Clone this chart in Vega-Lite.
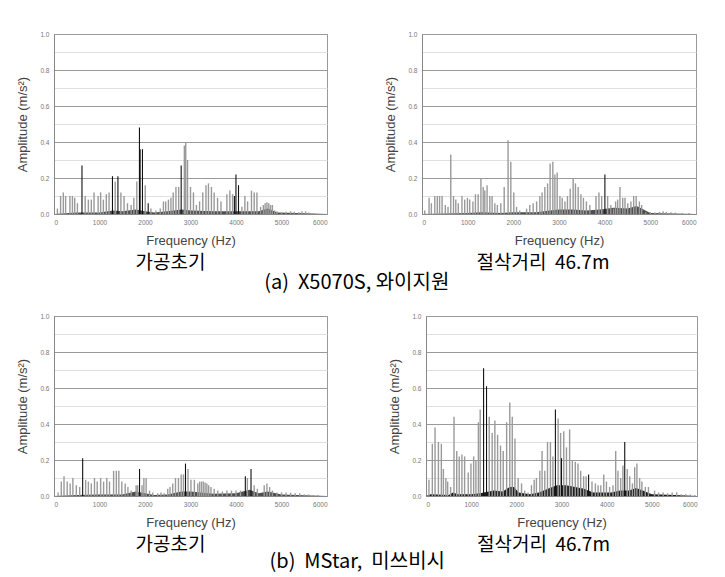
{
"$schema": "https://vega.github.io/schema/vega-lite/v6.json",
"padding": {"left": 16, "top": 30, "right": 5, "bottom": 5},
"background": "white",
"datasets": {
"s": [
{"p":"a1","t":"g","f":75,"a":0.03},{"p":"a1","t":"g","f":145,"a":0.10},{"p":"a1","t":"g","f":205,"a":0.12},{"p":"a1","t":"g","f":255,"a":0.10},{"p":"a1","t":"g","f":350,"a":0.10},{"p":"a1","t":"g","f":405,"a":0.10},{"p":"a1","t":"g","f":455,"a":0.09},{"p":"a1","t":"g","f":515,"a":0.06},{"p":"a1","t":"k","f":615,"a":0.27},{"p":"a1","t":"g","f":685,"a":0.10},{"p":"a1","t":"g","f":755,"a":0.08},{"p":"a1","t":"g","f":820,"a":0.08},{"p":"a1","t":"g","f":880,"a":0.12},{"p":"a1","t":"g","f":970,"a":0.10},{"p":"a1","t":"g","f":1025,"a":0.12},{"p":"a1","t":"g","f":1085,"a":0.08},{"p":"a1","t":"g","f":1150,"a":0.11},{"p":"a1","t":"g","f":1210,"a":0.12},{"p":"a1","t":"k","f":1285,"a":0.21},{"p":"a1","t":"g","f":1345,"a":0.18},{"p":"a1","t":"k","f":1405,"a":0.21},{"p":"a1","t":"g","f":1470,"a":0.12},{"p":"a1","t":"g","f":1540,"a":0.10},{"p":"a1","t":"g","f":1615,"a":0.06},{"p":"a1","t":"g","f":1695,"a":0.05},{"p":"a1","t":"g","f":1755,"a":0.09},{"p":"a1","t":"g","f":1820,"a":0.18},{"p":"a1","t":"k","f":1878,"a":0.48},{"p":"a1","t":"k","f":1893,"a":0.36},{"p":"a1","t":"k","f":1944,"a":0.36},{"p":"a1","t":"g","f":2005,"a":0.16},{"p":"a1","t":"k","f":2070,"a":0.06},{"p":"a1","t":"g","f":2130,"a":0.03},{"p":"a1","t":"g","f":2240,"a":0.02},{"p":"a1","t":"g","f":2335,"a":0.03},{"p":"a1","t":"g","f":2405,"a":0.07},{"p":"a1","t":"g","f":2455,"a":0.07},{"p":"a1","t":"g","f":2515,"a":0.08},{"p":"a1","t":"g","f":2570,"a":0.09},{"p":"a1","t":"g","f":2620,"a":0.12},{"p":"a1","t":"g","f":2680,"a":0.15},{"p":"a1","t":"g","f":2740,"a":0.15},{"p":"a1","t":"k","f":2795,"a":0.27},{"p":"a1","t":"g","f":2865,"a":0.38},{"p":"a1","t":"g","f":2895,"a":0.40},{"p":"a1","t":"g","f":2935,"a":0.30},{"p":"a1","t":"g","f":3000,"a":0.15},{"p":"a1","t":"g","f":3065,"a":0.12},{"p":"a1","t":"g","f":3130,"a":0.05},{"p":"a1","t":"g","f":3200,"a":0.07},{"p":"a1","t":"g","f":3270,"a":0.12},{"p":"a1","t":"g","f":3340,"a":0.16},{"p":"a1","t":"g","f":3395,"a":0.17},{"p":"a1","t":"g","f":3460,"a":0.15},{"p":"a1","t":"g","f":3520,"a":0.12},{"p":"a1","t":"g","f":3595,"a":0.09},{"p":"a1","t":"g","f":3670,"a":0.07},{"p":"a1","t":"g","f":3800,"a":0.11},{"p":"a1","t":"g","f":3865,"a":0.13},{"p":"a1","t":"g","f":3925,"a":0.11},{"p":"a1","t":"k","f":3965,"a":0.10},{"p":"a1","t":"k","f":3999,"a":0.22},{"p":"a1","t":"k","f":4055,"a":0.16},{"p":"a1","t":"g","f":4130,"a":0.04},{"p":"a1","t":"g","f":4195,"a":0.10},{"p":"a1","t":"g","f":4255,"a":0.07},{"p":"a1","t":"g","f":4340,"a":0.13},{"p":"a1","t":"g","f":4400,"a":0.12},{"p":"a1","t":"g","f":4460,"a":0.12},{"p":"a1","t":"g","f":4540,"a":0.04},{"p":"a1","t":"g","f":4600,"a":0.05},{"p":"a1","t":"g","f":4640,"a":0.06},{"p":"a1","t":"g","f":4680,"a":0.065},{"p":"a1","t":"g","f":4720,"a":0.06},{"p":"a1","t":"g","f":4760,"a":0.05},{"p":"a1","t":"g","f":4800,"a":0.05},{"p":"a1","t":"g","f":4850,"a":0.02},{"p":"a1","t":"g","f":4900,"a":0.015},{"p":"a1","t":"g","f":5000,"a":0.01},{"p":"a1","t":"g","f":5100,"a":0.012},{"p":"a1","t":"g","f":5200,"a":0.015},{"p":"a1","t":"g","f":5280,"a":0.012},{"p":"a1","t":"g","f":5380,"a":0.01},{"p":"a1","t":"g","f":5450,"a":0.015},{"p":"a1","t":"g","f":5530,"a":0.015},{"p":"a1","t":"g","f":5600,"a":0.008},{"p":"a1","t":"g","f":5700,"a":0.005},
{"p":"a1","t":"f","f":0,"a":0},{"p":"a1","t":"f","f":500,"a":0.008},{"p":"a1","t":"f","f":1000,"a":0.008},{"p":"a1","t":"f","f":1300,"a":0.02},{"p":"a1","t":"f","f":1500,"a":0.015},{"p":"a1","t":"f","f":1800,"a":0.025},{"p":"a1","t":"f","f":2000,"a":0.015},{"p":"a1","t":"f","f":2200,"a":0.008},{"p":"a1","t":"f","f":2500,"a":0.015},{"p":"a1","t":"f","f":2800,"a":0.025},{"p":"a1","t":"f","f":3000,"a":0.02},{"p":"a1","t":"f","f":3500,"a":0.015},{"p":"a1","t":"f","f":4000,"a":0.015},{"p":"a1","t":"f","f":4500,"a":0.015},{"p":"a1","t":"f","f":4700,"a":0.03},{"p":"a1","t":"f","f":4900,"a":0.008},{"p":"a1","t":"f","f":5500,"a":0.004},{"p":"a1","t":"f","f":6000,"a":0},

{"p":"a2","t":"g","f":60,"a":0.02},{"p":"a2","t":"g","f":155,"a":0.09},{"p":"a2","t":"g","f":205,"a":0.06},{"p":"a2","t":"g","f":280,"a":0.10},{"p":"a2","t":"g","f":335,"a":0.10},{"p":"a2","t":"g","f":385,"a":0.10},{"p":"a2","t":"g","f":440,"a":0.10},{"p":"a2","t":"g","f":510,"a":0.05},{"p":"a2","t":"g","f":570,"a":0.04},{"p":"a2","t":"g","f":630,"a":0.33},{"p":"a2","t":"g","f":690,"a":0.10},{"p":"a2","t":"g","f":740,"a":0.08},{"p":"a2","t":"g","f":795,"a":0.06},{"p":"a2","t":"g","f":875,"a":0.10},{"p":"a2","t":"g","f":935,"a":0.08},{"p":"a2","t":"g","f":995,"a":0.09},{"p":"a2","t":"g","f":1045,"a":0.08},{"p":"a2","t":"g","f":1115,"a":0.07},{"p":"a2","t":"g","f":1170,"a":0.11},{"p":"a2","t":"g","f":1230,"a":0.11},{"p":"a2","t":"g","f":1290,"a":0.20},{"p":"a2","t":"g","f":1340,"a":0.15},{"p":"a2","t":"g","f":1375,"a":0.13},{"p":"a2","t":"g","f":1425,"a":0.16},{"p":"a2","t":"g","f":1485,"a":0.10},{"p":"a2","t":"g","f":1535,"a":0.10},{"p":"a2","t":"g","f":1595,"a":0.06},{"p":"a2","t":"g","f":1650,"a":0.05},{"p":"a2","t":"g","f":1725,"a":0.06},{"p":"a2","t":"g","f":1800,"a":0.15},{"p":"a2","t":"g","f":1885,"a":0.41},{"p":"a2","t":"g","f":1945,"a":0.29},{"p":"a2","t":"g","f":2010,"a":0.12},{"p":"a2","t":"g","f":2070,"a":0.04},{"p":"a2","t":"g","f":2140,"a":0.02},{"p":"a2","t":"g","f":2290,"a":0.03},{"p":"a2","t":"g","f":2360,"a":0.05},{"p":"a2","t":"g","f":2435,"a":0.06},{"p":"a2","t":"g","f":2510,"a":0.07},{"p":"a2","t":"g","f":2580,"a":0.10},{"p":"a2","t":"g","f":2630,"a":0.12},{"p":"a2","t":"g","f":2690,"a":0.15},{"p":"a2","t":"g","f":2750,"a":0.17},{"p":"a2","t":"g","f":2805,"a":0.28},{"p":"a2","t":"g","f":2865,"a":0.29},{"p":"a2","t":"g","f":2910,"a":0.22},{"p":"a2","t":"g","f":2960,"a":0.23},{"p":"a2","t":"g","f":3020,"a":0.10},{"p":"a2","t":"g","f":3070,"a":0.09},{"p":"a2","t":"g","f":3130,"a":0.07},{"p":"a2","t":"g","f":3185,"a":0.10},{"p":"a2","t":"g","f":3245,"a":0.14},{"p":"a2","t":"g","f":3310,"a":0.20},{"p":"a2","t":"g","f":3360,"a":0.17},{"p":"a2","t":"g","f":3420,"a":0.15},{"p":"a2","t":"g","f":3480,"a":0.11},{"p":"a2","t":"g","f":3535,"a":0.09},{"p":"a2","t":"g","f":3600,"a":0.07},{"p":"a2","t":"g","f":3675,"a":0.05},{"p":"a2","t":"g","f":3810,"a":0.10},{"p":"a2","t":"g","f":3875,"a":0.12},{"p":"a2","t":"g","f":3935,"a":0.10},{"p":"a2","t":"k","f":4005,"a":0.22},{"p":"a2","t":"g","f":4065,"a":0.10},{"p":"a2","t":"g","f":4135,"a":0.05},{"p":"a2","t":"g","f":4195,"a":0.03},{"p":"a2","t":"g","f":4240,"a":0.07},{"p":"a2","t":"g","f":4285,"a":0.08},{"p":"a2","t":"g","f":4335,"a":0.15},{"p":"a2","t":"g","f":4395,"a":0.09},{"p":"a2","t":"g","f":4445,"a":0.09},{"p":"a2","t":"g","f":4505,"a":0.06},{"p":"a2","t":"g","f":4575,"a":0.07},{"p":"a2","t":"g","f":4635,"a":0.10},{"p":"a2","t":"g","f":4690,"a":0.10},{"p":"a2","t":"g","f":4760,"a":0.07},{"p":"a2","t":"g","f":4810,"a":0.05},{"p":"a2","t":"g","f":4900,"a":0.01},{"p":"a2","t":"g","f":5000,"a":0.01},{"p":"a2","t":"g","f":5100,"a":0.008},{"p":"a2","t":"g","f":5200,"a":0.012},{"p":"a2","t":"g","f":5280,"a":0.015},{"p":"a2","t":"g","f":5350,"a":0.012},{"p":"a2","t":"g","f":5450,"a":0.01},{"p":"a2","t":"g","f":5550,"a":0.008},{"p":"a2","t":"g","f":5700,"a":0.005},{"p":"a2","t":"g","f":5850,"a":0.005},
{"p":"a2","t":"f","f":0,"a":0},{"p":"a2","t":"f","f":1000,"a":0.005},{"p":"a2","t":"f","f":1300,"a":0.01},{"p":"a2","t":"f","f":1700,"a":0.005},{"p":"a2","t":"f","f":2000,"a":0.01},{"p":"a2","t":"f","f":2500,"a":0.01},{"p":"a2","t":"f","f":2800,"a":0.02},{"p":"a2","t":"f","f":3000,"a":0.025},{"p":"a2","t":"f","f":3300,"a":0.025},{"p":"a2","t":"f","f":3600,"a":0.02},{"p":"a2","t":"f","f":3900,"a":0.025},{"p":"a2","t":"f","f":4200,"a":0.035},{"p":"a2","t":"f","f":4500,"a":0.03},{"p":"a2","t":"f","f":4700,"a":0.045},{"p":"a2","t":"f","f":4850,"a":0.025},{"p":"a2","t":"f","f":5000,"a":0.005},{"p":"a2","t":"f","f":6000,"a":0},

{"p":"b1","t":"g","f":90,"a":0.02},{"p":"b1","t":"g","f":160,"a":0.08},{"p":"b1","t":"g","f":220,"a":0.11},{"p":"b1","t":"g","f":290,"a":0.08},{"p":"b1","t":"g","f":355,"a":0.07},{"p":"b1","t":"g","f":415,"a":0.10},{"p":"b1","t":"g","f":490,"a":0.06},{"p":"b1","t":"g","f":565,"a":0.05},{"p":"b1","t":"k","f":630,"a":0.21},{"p":"b1","t":"g","f":695,"a":0.09},{"p":"b1","t":"g","f":755,"a":0.08},{"p":"b1","t":"g","f":820,"a":0.07},{"p":"b1","t":"g","f":890,"a":0.10},{"p":"b1","t":"g","f":950,"a":0.08},{"p":"b1","t":"g","f":1025,"a":0.10},{"p":"b1","t":"g","f":1090,"a":0.08},{"p":"b1","t":"g","f":1160,"a":0.10},{"p":"b1","t":"g","f":1220,"a":0.08},{"p":"b1","t":"g","f":1310,"a":0.14},{"p":"b1","t":"g","f":1370,"a":0.14},{"p":"b1","t":"g","f":1425,"a":0.14},{"p":"b1","t":"g","f":1490,"a":0.08},{"p":"b1","t":"g","f":1565,"a":0.07},{"p":"b1","t":"g","f":1625,"a":0.05},{"p":"b1","t":"g","f":1695,"a":0.03},{"p":"b1","t":"g","f":1805,"a":0.06},{"p":"b1","t":"g","f":1840,"a":0.06},{"p":"b1","t":"k","f":1880,"a":0.15},{"p":"b1","t":"g","f":1935,"a":0.06},{"p":"b1","t":"g","f":1975,"a":0.10},{"p":"b1","t":"g","f":2025,"a":0.10},{"p":"b1","t":"g","f":2100,"a":0.03},{"p":"b1","t":"g","f":2170,"a":0.02},{"p":"b1","t":"g","f":2280,"a":0.015},{"p":"b1","t":"g","f":2350,"a":0.02},{"p":"b1","t":"g","f":2420,"a":0.015},{"p":"b1","t":"g","f":2500,"a":0.04},{"p":"b1","t":"g","f":2550,"a":0.05},{"p":"b1","t":"g","f":2610,"a":0.07},{"p":"b1","t":"g","f":2670,"a":0.10},{"p":"b1","t":"g","f":2735,"a":0.10},{"p":"b1","t":"g","f":2795,"a":0.12},{"p":"b1","t":"g","f":2845,"a":0.12},{"p":"b1","t":"k","f":2890,"a":0.18},{"p":"b1","t":"g","f":2945,"a":0.15},{"p":"b1","t":"g","f":3010,"a":0.09},{"p":"b1","t":"g","f":3085,"a":0.09},{"p":"b1","t":"g","f":3160,"a":0.07},{"p":"b1","t":"g","f":3200,"a":0.08},{"p":"b1","t":"g","f":3240,"a":0.08},{"p":"b1","t":"g","f":3280,"a":0.08},{"p":"b1","t":"g","f":3320,"a":0.075},{"p":"b1","t":"g","f":3360,"a":0.07},{"p":"b1","t":"g","f":3400,"a":0.06},{"p":"b1","t":"g","f":3450,"a":0.05},{"p":"b1","t":"g","f":3520,"a":0.04},{"p":"b1","t":"g","f":3600,"a":0.03},{"p":"b1","t":"g","f":3700,"a":0.025},{"p":"b1","t":"g","f":3800,"a":0.03},{"p":"b1","t":"g","f":3900,"a":0.03},{"p":"b1","t":"g","f":4000,"a":0.03},{"p":"b1","t":"g","f":4100,"a":0.03},{"p":"b1","t":"k","f":4205,"a":0.11},{"p":"b1","t":"g","f":4250,"a":0.10},{"p":"b1","t":"k","f":4330,"a":0.15},{"p":"b1","t":"g","f":4400,"a":0.06},{"p":"b1","t":"g","f":4470,"a":0.04},{"p":"b1","t":"g","f":4620,"a":0.06},{"p":"b1","t":"g","f":4680,"a":0.07},{"p":"b1","t":"g","f":4740,"a":0.05},{"p":"b1","t":"g","f":4800,"a":0.03},{"p":"b1","t":"g","f":4900,"a":0.02},{"p":"b1","t":"g","f":5000,"a":0.02},{"p":"b1","t":"g","f":5100,"a":0.02},{"p":"b1","t":"g","f":5200,"a":0.018},{"p":"b1","t":"g","f":5300,"a":0.015},{"p":"b1","t":"g","f":5400,"a":0.015},{"p":"b1","t":"g","f":5500,"a":0.01},{"p":"b1","t":"g","f":5600,"a":0.008},{"p":"b1","t":"g","f":5700,"a":0.005},{"p":"b1","t":"g","f":5800,"a":0.005},
{"p":"b1","t":"f","f":0,"a":0},{"p":"b1","t":"f","f":500,"a":0.005},{"p":"b1","t":"f","f":1000,"a":0.008},{"p":"b1","t":"f","f":1500,"a":0.008},{"p":"b1","t":"f","f":1800,"a":0.025},{"p":"b1","t":"f","f":2000,"a":0.015},{"p":"b1","t":"f","f":2200,"a":0.005},{"p":"b1","t":"f","f":2500,"a":0.008},{"p":"b1","t":"f","f":2800,"a":0.025},{"p":"b1","t":"f","f":3000,"a":0.025},{"p":"b1","t":"f","f":3500,"a":0.012},{"p":"b1","t":"f","f":4000,"a":0.015},{"p":"b1","t":"f","f":4300,"a":0.035},{"p":"b1","t":"f","f":4500,"a":0.015},{"p":"b1","t":"f","f":4700,"a":0.025},{"p":"b1","t":"f","f":5000,"a":0.008},{"p":"b1","t":"f","f":6000,"a":0},

{"p":"b2","t":"g","f":65,"a":0.09},{"p":"b2","t":"g","f":140,"a":0.29},{"p":"b2","t":"g","f":200,"a":0.38},{"p":"b2","t":"g","f":275,"a":0.30},{"p":"b2","t":"g","f":340,"a":0.29},{"p":"b2","t":"g","f":385,"a":0.15},{"p":"b2","t":"g","f":440,"a":0.10},{"p":"b2","t":"g","f":480,"a":0.08},{"p":"b2","t":"g","f":545,"a":0.05},{"p":"b2","t":"g","f":620,"a":0.44},{"p":"b2","t":"g","f":680,"a":0.25},{"p":"b2","t":"g","f":735,"a":0.22},{"p":"b2","t":"g","f":795,"a":0.23},{"p":"b2","t":"g","f":855,"a":0.22},{"p":"b2","t":"g","f":935,"a":0.13},{"p":"b2","t":"g","f":995,"a":0.18},{"p":"b2","t":"g","f":1055,"a":0.22},{"p":"b2","t":"g","f":1105,"a":0.20},{"p":"b2","t":"g","f":1160,"a":0.41},{"p":"b2","t":"g","f":1200,"a":0.48},{"p":"b2","t":"k","f":1275,"a":0.71},{"p":"b2","t":"k","f":1340,"a":0.61},{"p":"b2","t":"g","f":1400,"a":0.44},{"p":"b2","t":"g","f":1465,"a":0.35},{"p":"b2","t":"g","f":1525,"a":0.42},{"p":"b2","t":"g","f":1585,"a":0.34},{"p":"b2","t":"g","f":1650,"a":0.28},{"p":"b2","t":"g","f":1710,"a":0.25},{"p":"b2","t":"g","f":1785,"a":0.41},{"p":"b2","t":"g","f":1855,"a":0.52},{"p":"b2","t":"g","f":1910,"a":0.44},{"p":"b2","t":"g","f":1970,"a":0.32},{"p":"b2","t":"g","f":2040,"a":0.10},{"p":"b2","t":"g","f":2115,"a":0.07},{"p":"b2","t":"g","f":2185,"a":0.03},{"p":"b2","t":"g","f":2260,"a":0.02},{"p":"b2","t":"g","f":2335,"a":0.06},{"p":"b2","t":"g","f":2395,"a":0.09},{"p":"b2","t":"g","f":2445,"a":0.10},{"p":"b2","t":"g","f":2520,"a":0.14},{"p":"b2","t":"g","f":2570,"a":0.25},{"p":"b2","t":"g","f":2630,"a":0.14},{"p":"b2","t":"g","f":2690,"a":0.30},{"p":"b2","t":"g","f":2755,"a":0.30},{"p":"b2","t":"g","f":2810,"a":0.22},{"p":"b2","t":"k","f":2865,"a":0.48},{"p":"b2","t":"g","f":2925,"a":0.43},{"p":"b2","t":"g","f":2980,"a":0.35},{"p":"b2","t":"k","f":3000,"a":0.21},{"p":"b2","t":"g","f":3050,"a":0.36},{"p":"b2","t":"g","f":3110,"a":0.27},{"p":"b2","t":"g","f":3180,"a":0.37},{"p":"b2","t":"g","f":3240,"a":0.20},{"p":"b2","t":"g","f":3305,"a":0.19},{"p":"b2","t":"g","f":3365,"a":0.18},{"p":"b2","t":"g","f":3425,"a":0.14},{"p":"b2","t":"g","f":3490,"a":0.11},{"p":"b2","t":"g","f":3545,"a":0.11},{"p":"b2","t":"k","f":3600,"a":0.12},{"p":"b2","t":"g","f":3675,"a":0.08},{"p":"b2","t":"g","f":3750,"a":0.07},{"p":"b2","t":"g","f":3810,"a":0.06},{"p":"b2","t":"g","f":3870,"a":0.06},{"p":"b2","t":"g","f":3935,"a":0.12},{"p":"b2","t":"g","f":3995,"a":0.08},{"p":"b2","t":"g","f":4065,"a":0.05},{"p":"b2","t":"g","f":4140,"a":0.06},{"p":"b2","t":"g","f":4200,"a":0.25},{"p":"b2","t":"g","f":4250,"a":0.14},{"p":"b2","t":"g","f":4310,"a":0.10},{"p":"b2","t":"g","f":4360,"a":0.17},{"p":"b2","t":"k","f":4400,"a":0.30},{"p":"b2","t":"g","f":4455,"a":0.15},{"p":"b2","t":"g","f":4510,"a":0.11},{"p":"b2","t":"g","f":4570,"a":0.07},{"p":"b2","t":"g","f":4620,"a":0.16},{"p":"b2","t":"g","f":4670,"a":0.18},{"p":"b2","t":"g","f":4730,"a":0.10},{"p":"b2","t":"g","f":4780,"a":0.08},{"p":"b2","t":"g","f":4855,"a":0.05},{"p":"b2","t":"g","f":4925,"a":0.05},{"p":"b2","t":"g","f":5060,"a":0.03},{"p":"b2","t":"g","f":5150,"a":0.02},{"p":"b2","t":"g","f":5250,"a":0.02},{"p":"b2","t":"g","f":5350,"a":0.015},{"p":"b2","t":"g","f":5450,"a":0.02},{"p":"b2","t":"g","f":5550,"a":0.02},{"p":"b2","t":"g","f":5650,"a":0.01},{"p":"b2","t":"g","f":5750,"a":0.01},{"p":"b2","t":"g","f":5850,"a":0.008},{"p":"b2","t":"g","f":5950,"a":0.005},
{"p":"b2","t":"f","f":0,"a":0},{"p":"b2","t":"f","f":100,"a":0.01},{"p":"b2","t":"f","f":500,"a":0.005},{"p":"b2","t":"f","f":600,"a":0.02},{"p":"b2","t":"f","f":700,"a":0.01},{"p":"b2","t":"f","f":1000,"a":0.01},{"p":"b2","t":"f","f":1200,"a":0.015},{"p":"b2","t":"f","f":1500,"a":0.03},{"p":"b2","t":"f","f":1700,"a":0.025},{"p":"b2","t":"f","f":1850,"a":0.05},{"p":"b2","t":"f","f":1950,"a":0.05},{"p":"b2","t":"f","f":2050,"a":0.02},{"p":"b2","t":"f","f":2300,"a":0.01},{"p":"b2","t":"f","f":2500,"a":0.02},{"p":"b2","t":"f","f":2700,"a":0.04},{"p":"b2","t":"f","f":2900,"a":0.06},{"p":"b2","t":"f","f":3100,"a":0.06},{"p":"b2","t":"f","f":3300,"a":0.05},{"p":"b2","t":"f","f":3500,"a":0.04},{"p":"b2","t":"f","f":3700,"a":0.02},{"p":"b2","t":"f","f":3900,"a":0.02},{"p":"b2","t":"f","f":4100,"a":0.02},{"p":"b2","t":"f","f":4300,"a":0.03},{"p":"b2","t":"f","f":4500,"a":0.03},{"p":"b2","t":"f","f":4650,"a":0.045},{"p":"b2","t":"f","f":4800,"a":0.03},{"p":"b2","t":"f","f":5000,"a":0.01},{"p":"b2","t":"f","f":5500,"a":0.005},{"p":"b2","t":"f","f":6000,"a":0}
]
},
"vconcat": [
{"hconcat": [
{"width": 273, "height": 180, "data": {"name": "s"}, "transform": [{"filter": "datum.p=='a1'"}],
 "title": {"text": "가공초기", "orient": "bottom", "anchor": "middle", "dx": -20, "offset": 6},
 "encoding": {
  "x": {"field": "f", "type": "quantitative", "scale": {"domain": [0, 6000], "nice": false}, "axis": {"values": [0,1000,2000,3000,4000,5000,6000], "format": "d", "title": "Frequency (Hz)"}},
  "y": {"field": "a", "type": "quantitative", "scale": {"domain": [0, 1], "nice": false}, "axis": {"values": [0,0.1,0.2,0.3,0.4,0.5,0.6,0.7,0.8,0.9,1.0], "format": ".1f", "labelExpr": "round(datum.value*10)%2==0 ? datum.label : ''", "gridColor": {"condition": {"test": "round(datum.value*10)%2==0", "value": "#9a9a9a"}, "value": "#e0e0e0"}, "title": "Amplitude (m/s²)"}}},
 "layer": [
  {"transform": [{"filter": "datum.t=='f'"}], "mark": {"type": "area", "color": "#222", "opacity": 0.8}},
  {"transform": [{"filter": "datum.t=='g'"}], "mark": {"type": "rule", "color": "#9a9a9a", "strokeWidth": 1.4}, "encoding": {"y2": {"datum": 0}}},
  {"transform": [{"filter": "datum.t=='k'"}], "mark": {"type": "rule", "color": "#111", "strokeWidth": 1.1}, "encoding": {"y2": {"datum": 0}}}
 ]},
{"width": 274, "height": 180, "data": {"name": "s"}, "transform": [{"filter": "datum.p=='a2'"}],
 "title": {"text": "절삭거리\u00a0\u00a046.7m", "orient": "bottom", "anchor": "middle", "dx": -16, "offset": 6},
 "encoding": {
  "x": {"field": "f", "type": "quantitative", "scale": {"domain": [0, 6000], "nice": false}, "axis": {"values": [0,1000,2000,3000,4000,5000,6000], "format": "d", "title": "Frequency (Hz)"}},
  "y": {"field": "a", "type": "quantitative", "scale": {"domain": [0, 1], "nice": false}, "axis": {"values": [0,0.1,0.2,0.3,0.4,0.5,0.6,0.7,0.8,0.9,1.0], "format": ".1f", "labelExpr": "round(datum.value*10)%2==0 ? datum.label : ''", "gridColor": {"condition": {"test": "round(datum.value*10)%2==0", "value": "#9a9a9a"}, "value": "#e0e0e0"}, "title": "Amplitude (m/s²)"}}},
 "layer": [
  {"transform": [{"filter": "datum.t=='f'"}], "mark": {"type": "area", "color": "#222", "opacity": 0.8}},
  {"transform": [{"filter": "datum.t=='g'"}], "mark": {"type": "rule", "color": "#9a9a9a", "strokeWidth": 1.4}, "encoding": {"y2": {"datum": 0}}},
  {"transform": [{"filter": "datum.t=='k'"}], "mark": {"type": "rule", "color": "#111", "strokeWidth": 1.1}, "encoding": {"y2": {"datum": 0}}}
 ]}
], "spacing": 56, "title": {"text": "(a)\u00a0\u00a0X5070S,\u00a0와이지원", "orient": "bottom", "anchor": "middle", "offset": 0, "fontSize": 20}},
{"hconcat": [
{"width": 273, "height": 180, "data": {"name": "s"}, "transform": [{"filter": "datum.p=='b1'"}],
 "title": {"text": "가공초기", "orient": "bottom", "anchor": "middle", "dx": -20, "offset": 6},
 "encoding": {
  "x": {"field": "f", "type": "quantitative", "scale": {"domain": [0, 6000], "nice": false}, "axis": {"values": [0,1000,2000,3000,4000,5000,6000], "format": "d", "title": "Frequency (Hz)"}},
  "y": {"field": "a", "type": "quantitative", "scale": {"domain": [0, 1], "nice": false}, "axis": {"values": [0,0.1,0.2,0.3,0.4,0.5,0.6,0.7,0.8,0.9,1.0], "format": ".1f", "labelExpr": "round(datum.value*10)%2==0 ? datum.label : ''", "gridColor": {"condition": {"test": "round(datum.value*10)%2==0", "value": "#9a9a9a"}, "value": "#e0e0e0"}, "title": "Amplitude (m/s²)"}}},
 "layer": [
  {"transform": [{"filter": "datum.t=='f'"}], "mark": {"type": "area", "color": "#222", "opacity": 0.8}},
  {"transform": [{"filter": "datum.t=='g'"}], "mark": {"type": "rule", "color": "#9a9a9a", "strokeWidth": 1.4}, "encoding": {"y2": {"datum": 0}}},
  {"transform": [{"filter": "datum.t=='k'"}], "mark": {"type": "rule", "color": "#111", "strokeWidth": 1.1}, "encoding": {"y2": {"datum": 0}}}
 ]},
{"width": 271, "height": 180, "data": {"name": "s"}, "transform": [{"filter": "datum.p=='b2'"}],
 "title": {"text": "절삭거리\u00a0\u00a046.7m", "orient": "bottom", "anchor": "middle", "dx": -18, "offset": 6},
 "encoding": {
  "x": {"field": "f", "type": "quantitative", "scale": {"domain": [0, 6000], "nice": false}, "axis": {"values": [0,1000,2000,3000,4000,5000,6000], "format": "d", "title": "Frequency (Hz)"}},
  "y": {"field": "a", "type": "quantitative", "scale": {"domain": [0, 1], "nice": false}, "axis": {"values": [0,0.1,0.2,0.3,0.4,0.5,0.6,0.7,0.8,0.9,1.0], "format": ".1f", "labelExpr": "round(datum.value*10)%2==0 ? datum.label : ''", "gridColor": {"condition": {"test": "round(datum.value*10)%2==0", "value": "#9a9a9a"}, "value": "#e0e0e0"}, "title": "Amplitude (m/s²)"}}},
 "layer": [
  {"transform": [{"filter": "datum.t=='f'"}], "mark": {"type": "area", "color": "#111", "opacity": 0.95}},
  {"transform": [{"filter": "datum.t=='g'"}], "mark": {"type": "rule", "color": "#9a9a9a", "strokeWidth": 1.4}, "encoding": {"y2": {"datum": 0}}},
  {"transform": [{"filter": "datum.t=='k'"}], "mark": {"type": "rule", "color": "#111", "strokeWidth": 1.1}, "encoding": {"y2": {"datum": 0}}}
 ]}
], "spacing": 60, "title": {"text": "(b)\u00a0\u00a0MStar,\u00a0\u00a0미쓰비시", "orient": "bottom", "anchor": "middle", "offset": -3, "fontSize": 20}}
],
"spacing": 19,
"config": {
 "view": {"stroke": "#999", "strokeWidth": 1},
 "axis": {"labelFont": "Liberation Sans", "titleFont": "Liberation Sans", "labelFontSize": 6.5, "labelColor": "#777", "titleFontSize": 13, "titleColor": "#444", "titleFontWeight": "normal", "domainColor": "#888", "tickColor": "#888", "tickSize": 0},
 "axisX": {"grid": false, "labelPadding": 5, "titlePadding": 9},
 "axisY": {"labelPadding": 5, "titlePadding": 10},
 "title": {"font": "Noto Sans CJK KR", "fontSize": 19, "fontWeight": "normal", "color": "#000"}
}
}
